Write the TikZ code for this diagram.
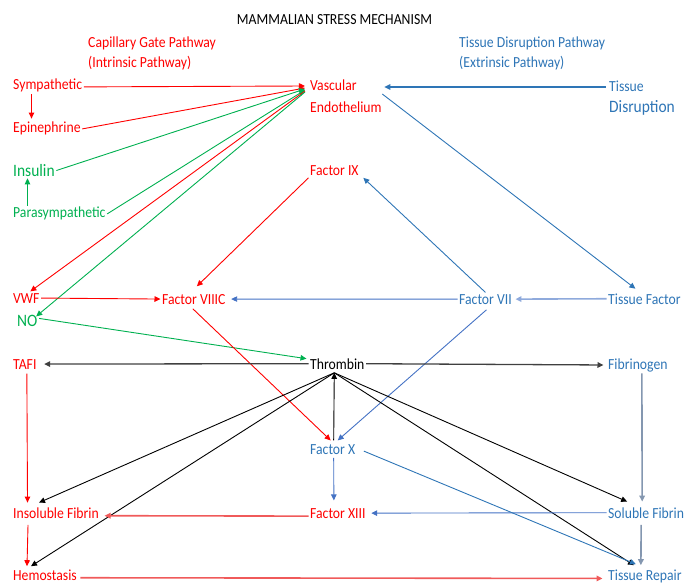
\documentclass[tikz,border=0pt]{standalone}
\usepackage{fontspec}
\setmainfont{Carlito}[FakeStretch=0.89]
\usetikzlibrary{arrows.meta}
\definecolor{cred}{HTML}{FF0000}
\definecolor{cgreen}{HTML}{00B050}
\definecolor{cblue}{HTML}{2E75B6}
\definecolor{cblue2}{HTML}{4472C4}
\definecolor{cblue3}{HTML}{8FAADC}
\definecolor{cgrey}{HTML}{8497B0}
\definecolor{cdark}{HTML}{404040}
\definecolor{cpink}{HTML}{F05A5A}
\begin{document}
\begin{tikzpicture}[x=1pt,y=-1pt,
  lbl/.style={anchor=base west, inner sep=1.5pt, font=\fontsize{15.4}{18}\selectfont},
  big/.style={font=\fontsize{17.4}{20}\selectfont},
  conn/.style={-{Triangle[length=6pt,width=5.5pt]}, line width=0.9pt},
  heavy/.style={line width=1.6pt},
  plain/.style={line width=0.9pt}]
\useasboundingbox (0,0) rectangle (686,583);

% headings
\node[lbl, anchor=base, text=black] (title) at (334.5,25) {MAMMALIAN STRESS MECHANISM};
\node[lbl, text=cred] (cap1) at (86.5,48) {Capillary Gate Pathway};
\node[lbl, text=cred] (cap2) at (86.5,68) {(Intrinsic Pathway)};
\node[lbl, text=cblue] (tdp1) at (457.5,48) {Tissue Disruption Pathway};
\node[lbl, text=cblue] (tdp2) at (457.5,68) {(Extrinsic Pathway)};

% nodes
\node[lbl, text=cred] (sym) at (11.5,90) {Sympathetic};
\node[lbl, text=cred] (epi) at (11.5,133) {Epinephrine};
\node[lbl, big, text=cgreen] (ins) at (11.5,176.5) {Insulin};
\node[lbl, text=cgreen] (para) at (11.5,218) {Parasympathetic};
\node[inner sep=1.5pt, anchor=west, align=left, text=cred,
      font=\fontsize{15.4}{22}\selectfont] (ve) at (308.5,96) {Vascular\\Endothelium};
\node[inner sep=1.5pt, anchor=west, align=left, text=cblue,
      font=\fontsize{15.4}{21}\selectfont] (td) at (607.5,98) {Tissue\\{\fontsize{17.4}{21}\selectfont Disruption}};
\node[lbl, text=cred] (f9) at (308.5,176) {Factor IX};
\node[lbl, text=cred] (vwf) at (11.5,303) {VWF};
\node[lbl, big, text=cgreen] (no) at (15.5,326) {NO};
\node[lbl, text=cred] (f8) at (160.5,304) {Factor VIIIC};
\node[lbl, text=cblue] (f7) at (457.5,304) {Factor VII};
\node[lbl, text=cblue] (tf) at (606.5,304) {Tissue Factor};
\node[lbl, text=cred] (tafi) at (11.5,369) {TAFI};
\node[lbl, text=black] (thr) at (308.5,369) {Thrombin};
\node[lbl, text=cblue] (fib) at (606.5,369) {Fibrinogen};
\node[lbl, text=cblue] (fx) at (308.5,454) {Factor X};
\node[lbl, text=cred] (insf) at (11.5,518) {Insoluble Fibrin};
\node[lbl, text=cred] (f13) at (308.5,518) {Factor XIII};
\node[lbl, text=cblue] (solf) at (606.5,518) {Soluble Fibrin};
\node[lbl, text=cred] (hemo) at (11.5,580.5) {Hemostasis};
\node[lbl, text=cblue] (trep) at (606.5,580.5) {Tissue Repair};

% intrinsic side
\draw[conn, cred] ([shift={(0,1)}]sym.east) -- ([shift={(-3.5,-10)}]ve.west);
\draw[conn, cred] ([shift={(20,0)}]sym.south west) -- ([shift={(20,-2)}]epi.north west);
\draw[conn, cred] (epi.east) -- ([shift={(-3.5,-8)}]ve.west);
\draw[conn, cgreen] (ins.east) -- ([shift={(-3.5,-7)}]ve.west);
\draw[conn, cgreen] ([shift={(16,0)}]para.north west) -- ([shift={(16,0)}]ins.south west);
\draw[conn, cgreen] (para.east) -- ([shift={(-3.5,-6)}]ve.west);
\draw[conn, cred] ([shift={(-3.5,-5)}]ve.west) -- ([shift={(4,0)}]vwf.north);
\draw[conn, cgreen] ([shift={(-3.5,-4)}]ve.west) -- ([shift={(-3,-4)}]no.east);
\draw[conn, cred] (vwf.east) -- (f8.west);
\draw[conn, cgreen] ([shift={(0,-2)}]no.east) -- ([shift={(-2,-5)}]thr.west);
\draw[conn, cred] (f9.south west) -- ([shift={(3,-6)}]f8.north);

% extrinsic side
\draw[conn, cblue, heavy] ([shift={(-2,-11)}]td.west) -- ([shift={(1,-9)}]ve.east);
\draw[conn, cblue] ([shift={(-1,-2)}]ve.east) -- ([shift={(-9,-3)}]tf.north);
\draw[conn, cblue] (f7.north) -- ([shift={(3,0)}]f9.south east);
\draw[conn, cblue3, heavy] (tf.west) -- ([shift={(2,0)}]f7.east);
\draw[conn, cblue2] (f7.west) -- ([shift={(4,0)}]f8.east);
\draw[conn, cred] ([shift={(-1,3)}]f8.south) -- ([shift={(-2,-2)}]fx.north);
\draw[conn, cblue2] ([shift={(1,4)}]f7.south) -- ([shift={(5,-2)}]fx.north);

% thrombin
\coordinate (tb) at ([shift={(-3,2)}]thr.south);
\draw[conn, cdark, line width=1.3pt] (thr.west) -- ([shift={(6,0)}]tafi.east);
\draw[conn, cdark, line width=1.3pt] (thr.east) -- ([shift={(-3,0)}]fib.west);
\draw[conn, black] ([shift={(1,-2)}]fx.north) -- (tb);
\draw[conn, black] (tb) -- ([shift={(-17,-3)}]insf.north);
\draw[conn, black] (tb) -- ([shift={(-14,-2)}]hemo.north);
\draw[conn, black] (tb) -- ([shift={(-19,-4)}]solf.north);
\draw[conn, black] (tb) -- ([shift={(-11,-3)}]trep.north);

% lower part
\draw[conn, cgrey, heavy] ([shift={(4,0)}]fib.south) -- ([shift={(-4,-4)}]solf.north);
\draw[conn, cblue2] (solf.west) -- ([shift={(4,0)}]f13.east);
\draw[conn, cpink, heavy] ([shift={(0,3)}]f13.west) -- ([shift={(4,3)}]insf.east);
\draw[conn, cblue2] ([shift={(1,2)}]fx.south) -- ([shift={(-4,-6)}]f13.north);
\draw[conn, cblue] ([shift={(7,2)}]fx.east) -- ([shift={(-9,-4)}]trep.north);
\draw[conn, cgrey, heavy] ([shift={(-5,5)}]solf.south) -- ([shift={(-4,-3)}]trep.north);
\draw[conn, cred] ([shift={(2,3)}]tafi.south) -- ([shift={(-28.5,-3)}]insf.north);
\draw[conn, cred] ([shift={(-28,5)}]insf.south) -- ([shift={(-18,-2)}]hemo.north);
\draw[conn, cpink, heavy] ([shift={(2,2.5)}]hemo.east) -- ([shift={(-4,2)}]trep.west);
\end{tikzpicture}
\end{document}
